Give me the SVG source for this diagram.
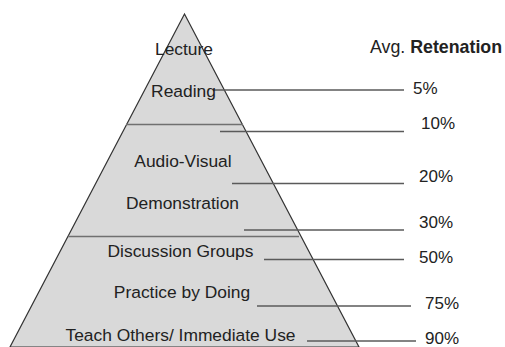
<svg xmlns="http://www.w3.org/2000/svg" width="505" height="347" viewBox="0 0 505 347">
<style>
.t{font-family:"Liberation Sans",Arial,sans-serif;font-size:17px;fill:#222}
.m{text-anchor:middle;font-size:17.4px}
.h{font-size:17.8px}
.c line{stroke:#5a5a5a;stroke-width:1.5}
.sep{stroke:#707070;stroke-width:1.5}
</style>
<rect width="505" height="347" fill="#fff"/>
<g id="pyramid">
<polygon points="184.5,14 10,347 359,347" fill="#d9d9d9" stroke="#333" stroke-width="1.2"/>
<line class="sep" x1="126" y1="124.5" x2="243" y2="124.5"/>
<line class="sep" x1="68" y1="236.5" x2="299" y2="236.5"/>
</g>
<g class="c" id="connectors">
<line x1="213" y1="90" x2="404" y2="90"/>
<line x1="220" y1="131.5" x2="404" y2="131.5"/>
<line x1="232" y1="183.5" x2="404" y2="183.5"/>
<line x1="244" y1="230" x2="404" y2="230"/>
<line x1="264" y1="259.5" x2="404" y2="259.5"/>
<line x1="257" y1="306" x2="411" y2="306"/>
<line x1="307" y1="341" x2="416" y2="341"/>
</g>
<g id="lecture"><text class="t m" x="184" y="55">Lecture</text></g>
<g id="reading"><text class="t m" x="183.5" y="97">Reading</text></g>
<g id="audio-visual"><text class="t m" x="183" y="167">Audio-Visual</text></g>
<g id="demonstration"><text class="t m" x="182.5" y="209">Demonstration</text></g>
<g id="discussion"><text class="t m" x="180.5" y="257">Discussion Groups</text></g>
<g id="practice"><text class="t m" x="182" y="298">Practice by Doing</text></g>
<g id="teach"><text class="t m" x="180.5" y="340.5">Teach Others/ Immediate Use</text></g>
<g id="header"><text class="t h" x="370" y="53">Avg. <tspan font-weight="bold">Retenation</tspan></text></g>
<g id="p5"><text class="t" x="413" y="94">5%</text></g>
<g id="p10"><text class="t" x="421" y="129">10%</text></g>
<g id="p20"><text class="t" x="419" y="182">20%</text></g>
<g id="p30"><text class="t" x="419" y="228">30%</text></g>
<g id="p50"><text class="t" x="419" y="263">50%</text></g>
<g id="p75"><text class="t" x="425" y="309">75%</text></g>
<g id="p90"><text class="t" x="425" y="344">90%</text></g>
</svg>
